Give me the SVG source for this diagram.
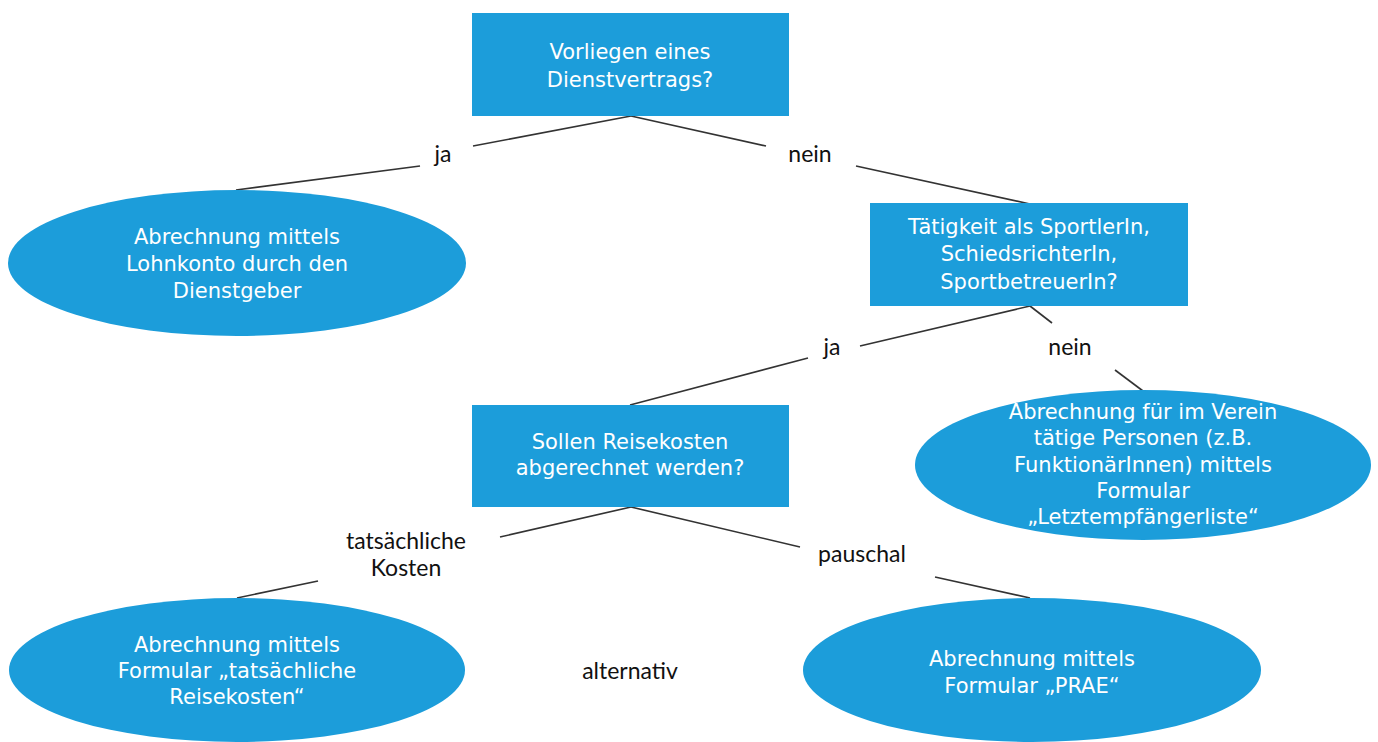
<svg xmlns="http://www.w3.org/2000/svg" width="1378" height="742" viewBox="0 0 1378 742">
<style>
.node{fill:#1c9dda;}
.nt{font-family:"DejaVu Sans",Verdana,sans-serif;font-size:21px;fill:#ffffff;text-anchor:middle;}
.lbl{font-family:Lato,"Open Sans",sans-serif;font-size:23px;fill:#111111;text-anchor:middle;}
.edge{stroke:#333333;stroke-width:1.6;fill:none;}
</style>
<rect width="1378" height="742" fill="#ffffff"/>
<g id="connectors">
<line class="edge" x1="631" y1="116" x2="473" y2="146"/>
<line class="edge" x1="420" y1="166" x2="236" y2="190"/>
<line class="edge" x1="631" y1="116" x2="766" y2="146"/>
<line class="edge" x1="856" y1="166" x2="1030" y2="204"/>
<line class="edge" x1="1030" y1="306" x2="860" y2="346"/>
<line class="edge" x1="808" y1="358" x2="630" y2="405"/>
<line class="edge" x1="1030" y1="306" x2="1052" y2="323"/>
<line class="edge" x1="1115" y1="370" x2="1143" y2="391"/>
<line class="edge" x1="631" y1="507" x2="500" y2="537"/>
<line class="edge" x1="318" y1="581" x2="237" y2="598"/>
<line class="edge" x1="631" y1="507" x2="800" y2="547"/>
<line class="edge" x1="935" y1="577" x2="1030" y2="598"/>
</g>
<g id="labels">
<text class="lbl" x="443" y="162">ja</text>
<text class="lbl" x="810" y="162">nein</text>
<text class="lbl" x="832" y="355">ja</text>
<text class="lbl" x="1070" y="355">nein</text>
<text class="lbl" x="406" y="549">tatsächliche</text>
<text class="lbl" x="406" y="576">Kosten</text>
<text class="lbl" x="862" y="562">pauschal</text>
<text class="lbl" x="630" y="679">alternativ</text>
</g>
<g id="n1">
<rect class="node" x="472" y="13" width="317" height="103"/>
<text class="nt" x="630" y="59">Vorliegen eines</text>
<text class="nt" x="630" y="87">Dienstvertrags?</text>
</g>
<g id="n2">
<ellipse class="node" cx="237" cy="263" rx="229" ry="73"/>
<text class="nt" x="237" y="244">Abrechnung mittels</text>
<text class="nt" x="237" y="271">Lohnkonto durch den</text>
<text class="nt" x="237" y="298">Dienstgeber</text>
</g>
<g id="n3">
<rect class="node" x="870" y="203" width="318" height="103"/>
<text class="nt" x="1029" y="234">Tätigkeit als SportlerIn,</text>
<text class="nt" x="1029" y="261">SchiedsrichterIn,</text>
<text class="nt" x="1029" y="289">SportbetreuerIn?</text>
</g>
<g id="n4">
<rect class="node" x="472" y="405" width="317" height="102"/>
<text class="nt" x="630" y="449">Sollen Reisekosten</text>
<text class="nt" x="630" y="475">abgerechnet werden?</text>
</g>
<g id="n5">
<ellipse class="node" cx="1143" cy="465" rx="228" ry="75"/>
<text class="nt" x="1143" y="419">Abrechnung für im Verein</text>
<text class="nt" x="1143" y="445">tätige Personen (z.B.</text>
<text class="nt" x="1143" y="472">FunktionärInnen) mittels</text>
<text class="nt" x="1143" y="498">Formular</text>
<text class="nt" x="1143" y="524">„Letztempfängerliste“</text>
</g>
<g id="n6">
<ellipse class="node" cx="237" cy="670" rx="228" ry="72"/>
<text class="nt" x="237" y="652">Abrechnung mittels</text>
<text class="nt" x="237" y="678">Formular „tatsächliche</text>
<text class="nt" x="237" y="704">Reisekosten“</text>
</g>
<g id="n7">
<ellipse class="node" cx="1032" cy="670" rx="229" ry="72"/>
<text class="nt" x="1032" y="666">Abrechnung mittels</text>
<text class="nt" x="1032" y="693">Formular „PRAE“</text>
</g>
</svg>
